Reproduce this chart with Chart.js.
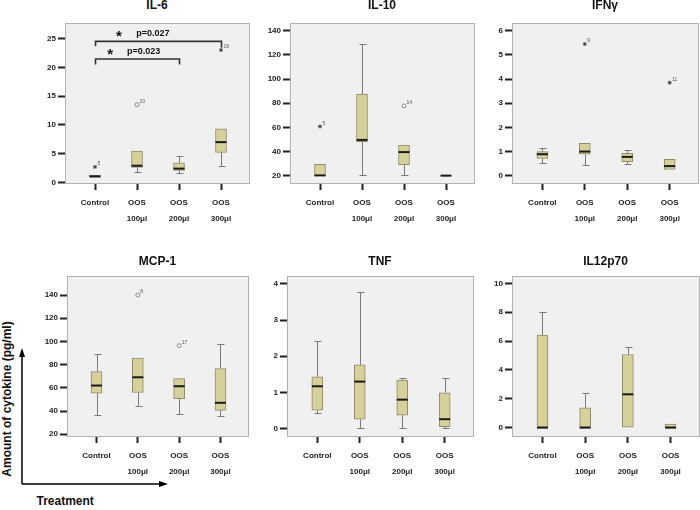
<!DOCTYPE html>
<html><head><meta charset="utf-8">
<script src="https://cdn.jsdelivr.net/npm/chart.js@4.4.1/dist/chart.umd.min.js"></script>
<style>
body{margin:0;width:700px;height:510px;background:#fff;position:relative;overflow:hidden;font-family:"Liberation Sans",Arial,sans-serif;}
canvas{position:absolute;}
.ttl{position:absolute;text-align:center;font-weight:bold;font-size:12px;line-height:14px;color:#111;}
svg{position:absolute;left:0;top:0;}
</style></head><body>
<svg width="700" height="510">
  <line x1="22" y1="484" x2="22" y2="355" stroke="#000" stroke-width="1.5"/>
  <polygon points="22,348 19,357 25,357" fill="#000"/>
  <line x1="22" y1="484" x2="161" y2="484" stroke="#000" stroke-width="1.5"/>
  <polygon points="168,484 159,481 159,487" fill="#000"/>
  <text transform="translate(10.5,399) rotate(-90)" text-anchor="middle" font-family="Liberation Sans, Arial, sans-serif" font-size="12" font-weight="bold" fill="#111">Amount of cytokine (pg/ml)</text>
  <text x="36.5" y="505" font-family="Liberation Sans, Arial, sans-serif" font-size="12" font-weight="bold" fill="#111">Treatment</text>
</svg>
<script>
// ---------- data ----------
const categories = [['Control'], ['OOS', '100μl'], ['OOS', '200μl'], ['OOS', '300μl']];

// each row: [min, q1, median, q3, max]
const il6Stats = [[0.9, 0.9, 1.05, 1.25, 1.25], [1.8, 2.6, 2.9, 5.45, 5.45], [1.6, 2.1, 2.4, 3.4, 4.6], [2.8, 5.2, 7.0, 9.3, 9.3]];
const il6Outliers = [{cat: 1, value: 2.7, id: '5', extreme: true}, {cat: 2, value: 13.5, id: '10', extreme: false}, {cat: 4, value: 23.0, id: '19', extreme: true}];
const il6Ticks = [0, 5, 10, 15, 20, 25];
const il6Brackets = [
  {from: 1, to: 4, y: 24.5, legFrom: 23.65, legTo: 23.4, starX: 1.57, textX: 1.98, textY: 25.86, label: 'p=0.027'},
  {from: 1, to: 3, y: 21.45, legFrom: 20.5, legTo: 20.5, starX: 1.36, textX: 1.76, textY: 22.73, label: 'p=0.023'}
];

const il10Stats = [[20, 20, 20.2, 29.4, 29.4], [20.3, 48.2, 49.6, 87.5, 129], [20.3, 29.0, 39.5, 45.3, 45.3], [20, 20, 20, 20, 20]];
const il10Outliers = [{cat: 1, value: 60.7, id: '5', extreme: true}, {cat: 3, value: 77.7, id: '14', extreme: false}];
const il10Ticks = [20, 40, 60, 80, 100, 120, 140];

const ifngStats = [[0.51, 0.72, 0.89, 1.0, 1.14], [0.44, 0.89, 1.0, 1.34, 1.34], [0.48, 0.58, 0.78, 0.93, 1.06], [0.26, 0.26, 0.40, 0.68, 0.68]];
const ifngOutliers = [{cat: 2, value: 5.45, id: '9', extreme: true}, {cat: 4, value: 3.85, id: '11', extreme: true}];
const ifngTicks = [0, 1, 2, 3, 4, 5, 6];

const mcp1Stats = [[36.3, 55.4, 62.0, 74.0, 89.1], [44.0, 56.0, 69.1, 85.7, 85.7], [37.1, 50.6, 61.4, 68.0, 68.0], [35.4, 40.6, 47.1, 76.6, 97.7]];
const mcp1Outliers = [{cat: 2, value: 140, id: '8', extreme: false}, {cat: 3, value: 96.3, id: '17', extreme: false}];
const mcp1Ticks = [20, 40, 60, 80, 100, 120, 140];

const tnfStats = [[0.44, 0.51, 1.17, 1.43, 2.43], [0.02, 0.26, 1.30, 1.76, 3.79], [0.02, 0.37, 0.80, 1.34, 1.39], [0.02, 0.05, 0.26, 0.99, 1.39]];
const tnfOutliers = [];
const tnfTicks = [0, 1, 2, 3, 4];

const il12Stats = [[0, 0, 0, 6.41, 8.03], [0, 0, 0, 1.37, 2.41], [0, 0, 2.31, 5.07, 5.6], [0, 0, 0, 0.25, 0.25]];
const il12Outliers = [];
const il12Ticks = [0, 2, 4, 6, 8, 10];

// ---------- styling ----------
const FONT = '"Liberation Sans", Arial, sans-serif';
const BOX_FILL = '#d6d09b';
const BOX_EDGE = '#8e8b6b';
const PLOT_BG = '#f0f0f0';
const PLOT_EDGE = '#b2b2b2';
const XMIN = 1 - 30 / 42, XMAX = 4 + 28 / 42;

function makePanel(p) {
  const {L, T, R, B} = p;
  const cv = document.createElement('canvas');
  cv.width = R - L + 50; cv.height = B - T + 55;
  cv.style.left = (L - 40) + 'px'; cv.style.top = (T - 10) + 'px';
  document.body.appendChild(cv);
  const t = document.createElement('div');
  t.className = 'ttl'; t.style.left = L + 'px'; t.style.width = (R - L) + 'px'; t.style.top = p.titleTop + 'px';
  t.textContent = p.title;
  document.body.appendChild(t);

  const plugin = {
    id: 'boxplot_' + p.title,
    beforeDraw(chart) {
      const a = chart.chartArea, c = chart.ctx;
      c.save(); c.fillStyle = PLOT_BG; c.fillRect(a.left, a.top, a.right - a.left, a.bottom - a.top); c.restore();
    },
    beforeDatasetsDraw(chart) {
      const c = chart.ctx, xs = chart.scales.x, ys = chart.scales.y;
      c.save(); c.strokeStyle = '#7a7a7a'; c.lineWidth = 1;
      p.stats.forEach((s, i) => {
        const x = Math.round(xs.getPixelForValue(i + 1)) + 0.5;
        const seg = (from, to) => {
          if (to === from) return;
          const y1 = ys.getPixelForValue(from), y2 = Math.round(ys.getPixelForValue(to)) + 0.5;
          c.beginPath(); c.moveTo(x, y1); c.lineTo(x, y2); c.moveTo(x - 3, y2); c.lineTo(x + 4, y2); c.stroke();
        };
        seg(s[3], s[4]); seg(s[1], s[0]);
      });
      c.restore();
    },
    afterDatasetsDraw(chart) {
      const c = chart.ctx, xs = chart.scales.x, ys = chart.scales.y;
      c.save();
      c.strokeStyle = '#1a1a1a'; c.lineWidth = 2;
      p.stats.forEach((s, i) => {
        const x = xs.getPixelForValue(i + 1), y = ys.getPixelForValue(s[2]);
        c.beginPath(); c.moveTo(x - 5.5, y); c.lineTo(x + 5.5, y); c.stroke();
      });
      c.fillStyle = '#555'; c.font = '5px ' + FONT; c.textAlign = 'left'; c.textBaseline = 'middle';
      p.outliers.forEach(o => {
        c.fillText(o.id, xs.getPixelForValue(o.cat) + 2.5, ys.getPixelForValue(o.value) - 3);
      });
      (p.brackets || []).forEach(b => {
        const x1 = Math.round(xs.getPixelForValue(b.from)) + 0.5, x2 = Math.round(xs.getPixelForValue(b.to)) + 0.5;
        const y = ys.getPixelForValue(b.y);
        c.strokeStyle = '#333'; c.lineWidth = 1.6;
        c.beginPath(); c.moveTo(x1, ys.getPixelForValue(b.legFrom)); c.lineTo(x1, y); c.lineTo(x2, y); c.lineTo(x2, ys.getPixelForValue(b.legTo)); c.stroke();
        c.fillStyle = '#111'; c.textBaseline = 'middle';
        c.font = 'bold 15px ' + FONT; c.textAlign = 'center';
        c.fillText('*', xs.getPixelForValue(b.starX), ys.getPixelForValue(b.textY) + 3.5);
        c.font = 'bold 9px ' + FONT; c.textAlign = 'left';
        c.fillText(b.label, xs.getPixelForValue(b.textX), ys.getPixelForValue(b.textY));
      });
      c.restore();
    },
    afterDraw(chart) {
      const a = chart.chartArea, c = chart.ctx;
      c.save(); c.strokeStyle = PLOT_EDGE; c.lineWidth = 1;
      c.strokeRect(Math.round(a.left) + 0.5, Math.round(a.top) + 0.5, Math.round(a.right - a.left), Math.round(a.bottom - a.top));
      c.restore();
    }
  };

  const tickFont = {family: FONT, size: 8, weight: 'bold'};
  new Chart(cv.getContext('2d'), {
    type: 'scatter',
    data: {
      datasets: [
        {type: 'bar', data: p.stats.map((s, i) => ({x: i + 1, y: [s[1], s[3]]})),
         backgroundColor: BOX_FILL, borderColor: BOX_EDGE, borderWidth: 1, barThickness: 11, borderSkipped: false},
        {type: 'scatter', data: p.outliers.filter(o => !o.extreme).map(o => ({x: o.cat, y: o.value})),
         pointStyle: 'circle', radius: 2, borderColor: '#777', borderWidth: 0.8, backgroundColor: 'rgba(0,0,0,0)'},
        {type: 'scatter', data: p.outliers.filter(o => o.extreme).map(o => ({x: o.cat, y: o.value})),
         pointStyle: 'star', radius: 2, borderColor: '#444', borderWidth: 1, backgroundColor: '#444'}
      ]
    },
    options: {
      animation: false, responsive: false, devicePixelRatio: 1, events: [],
      layout: {padding: {top: 10, right: 10, left: 0, bottom: 0}},
      plugins: {legend: {display: false}, tooltip: {enabled: false}, title: {display: false}},
      scales: {
        x: {type: 'linear', min: XMIN, max: XMAX, bounds: 'data', offset: false,
            afterBuildTicks: s => { s.ticks = [1, 2, 3, 4].map(v => ({value: v})); },
            afterFit: s => { s.height = 45; },
            border: {display: false},
            grid: {display: true, offset: false, drawOnChartArea: false, drawTicks: true, tickLength: 7, tickWidth: 2, tickColor: '#222'},
            ticks: {padding: 5, autoSkip: false, maxRotation: 0, minRotation: 0, color: '#222',
                    font: {family: FONT, size: 8, weight: 'bold', lineHeight: 1.95},
                    callback: (v, i) => categories[i]}},
        y: {type: 'linear', min: p.yMin, max: p.yMax, bounds: 'data',
            afterBuildTicks: s => { s.ticks = p.ticks.map(v => ({value: v})); },
            afterFit: s => { s.width = 40; },
            border: {display: false},
            grid: {display: true, drawOnChartArea: false, drawTicks: true, tickLength: 7, tickWidth: 2, tickColor: '#222'},
            ticks: {padding: 2, color: '#222', font: tickFont, callback: v => String(v)}}
      }
    },
    plugins: [plugin]
  });
}

makePanel({title: 'IL-6', L: 65, T: 23, R: 249, B: 183, titleTop: -2, stats: il6Stats, outliers: il6Outliers, ticks: il6Ticks, yMin: -0.1, yMax: 27.7, brackets: il6Brackets});
makePanel({title: 'IL-10', L: 290, T: 23, R: 474, B: 183, titleTop: -2, stats: il10Stats, outliers: il10Outliers, ticks: il10Ticks, yMin: 13.9, yMax: 146.4});
makePanel({title: 'IFNγ', L: 512, T: 23, R: 698, B: 183, titleTop: -2, stats: ifngStats, outliers: ifngOutliers, ticks: ifngTicks, yMin: -0.30, yMax: 6.32});
makePanel({title: 'MCP-1', L: 67, T: 276, R: 248, B: 436, titleTop: 254, stats: mcp1Stats, outliers: mcp1Outliers, ticks: mcp1Ticks, yMin: 18.5, yMax: 156.4});
makePanel({title: 'TNF', L: 287, T: 276, R: 473, B: 436, titleTop: 254, stats: tnfStats, outliers: tnfOutliers, ticks: tnfTicks, yMin: -0.205, yMax: 4.22});
makePanel({title: 'IL12p70', L: 512, T: 276, R: 699, B: 436, titleTop: 254, stats: il12Stats, outliers: il12Outliers, ticks: il12Ticks, yMin: -0.58, yMax: 10.51});
</script>
</body></html>
